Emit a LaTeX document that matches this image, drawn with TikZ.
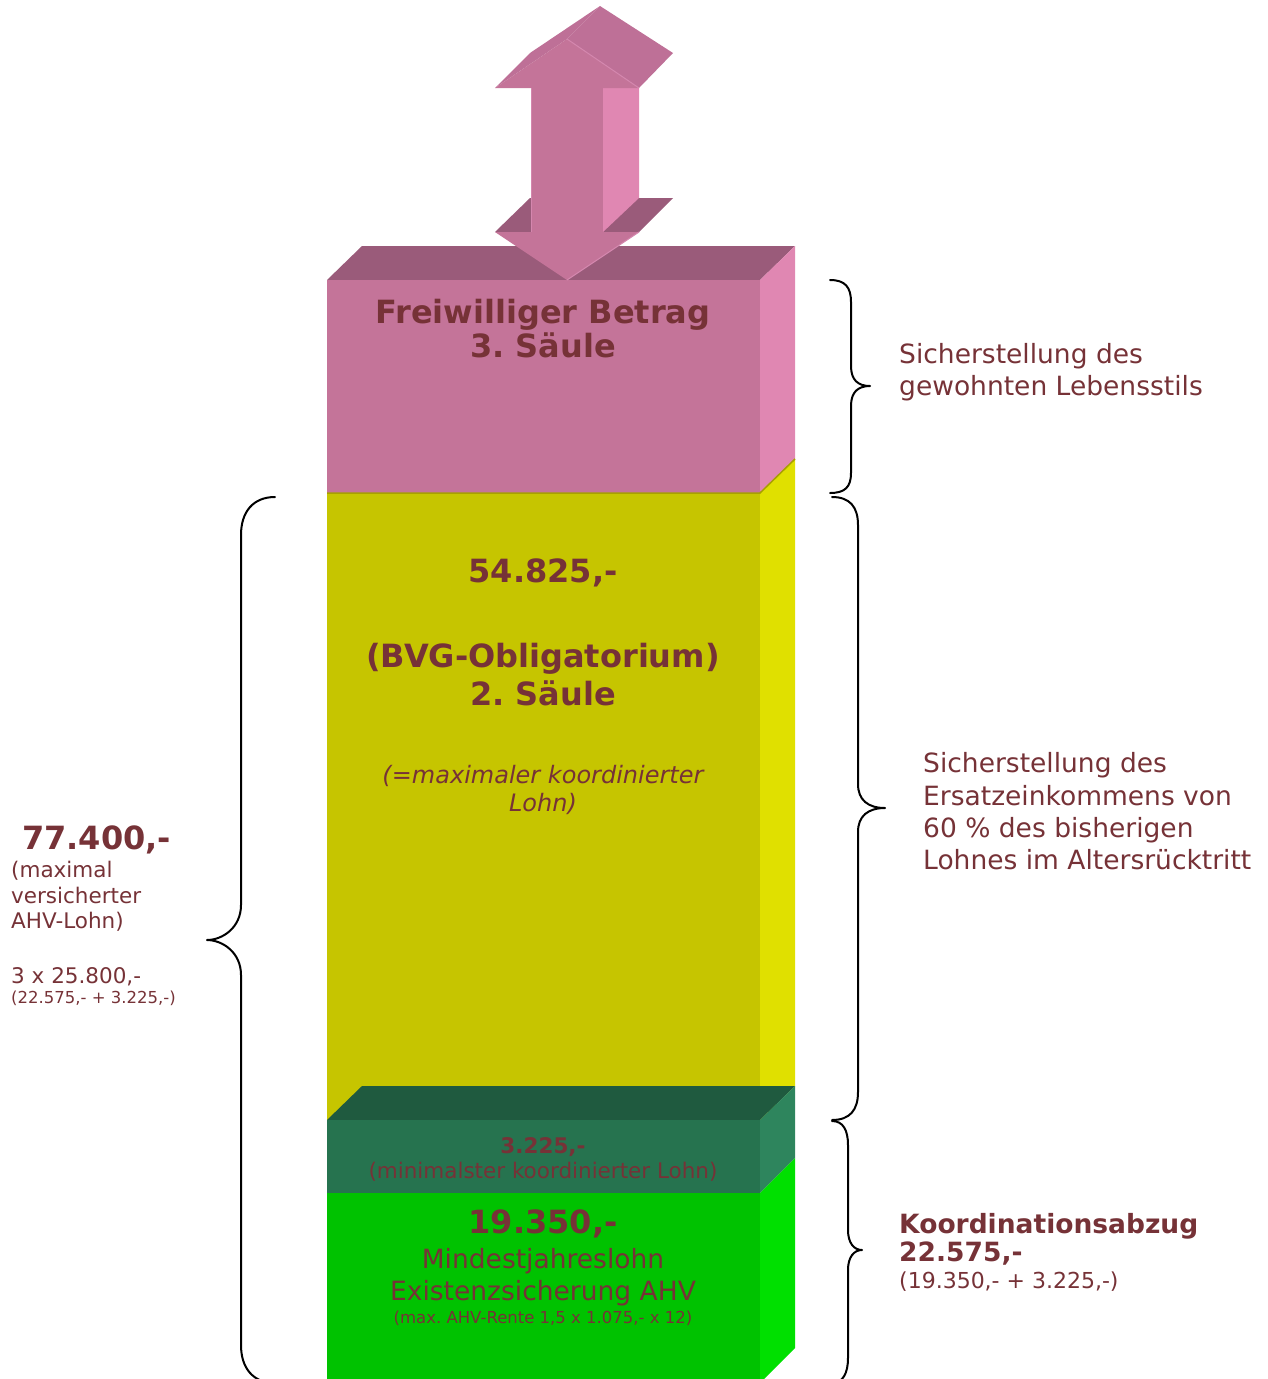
\documentclass[tikz,border=0pt]{standalone}
\usepackage{fontspec}
\setmainfont{DejaVu Sans}[ItalicFont={DejaVu Sans Oblique},BoldFont={DejaVu Sans Bold},BoldItalicFont={DejaVu Sans Bold Oblique}]
\definecolor{txt}{HTML}{763237}
\definecolor{pinkfront}{HTML}{C47499}
\definecolor{pinktop}{HTML}{9A5B7A}
\definecolor{pinkside}{HTML}{E087B2}
\definecolor{pinkslant}{HTML}{BE7097}
\definecolor{pinkridge}{HTML}{D487AE}
\definecolor{yelfront}{HTML}{C6C500}
\definecolor{yelside}{HTML}{E0E000}
\definecolor{yelline}{HTML}{A8A000}
\definecolor{dgtop}{HTML}{1F5A3F}
\definecolor{dgfront}{HTML}{26734F}
\definecolor{dgside}{HTML}{2E855D}
\definecolor{bgfront}{HTML}{00C200}
\definecolor{bgside}{HTML}{00E000}
\newcommand\fsz[1]{\fontsize{#1}{#1}\selectfont\frenchspacing}
\frenchspacing
\begin{document}
\begin{tikzpicture}[x=1pt,y=-1pt,
  lbl/.style={text=txt,inner sep=0pt,anchor=base},
  lblL/.style={text=txt,inner sep=0pt,anchor=base west},
  bigb/.style={font=\fsz{32}\bfseries},
  midr/.style={font=\fsz{26.5}},
  braceline/.style={draw=black,line width=2pt,line cap=round,line join=round}]
\useasboundingbox (0,0) rectangle (1268,1379);
\clip (0,0) rectangle (1268,1379);

% ---------- column ----------
% pink block
\fill[pinktop] (327,280) -- (362,246) -- (795,246) -- (760,280) -- cycle;
\fill[pinkside] (760,280) -- (795,246) -- (795,459) -- (760,493) -- cycle;
\fill[pinkfront] (327,280) rectangle (760,493);
% yellow block
\fill[yelfront] (327,493) rectangle (760,1120);
\fill[yelside] (760,493) -- (795,459) -- (795,1086) -- (760,1120) -- cycle;
\draw[yelline,line width=1.5pt] (327,493) -- (760,493) -- (795,459);
% dark green block
\fill[dgtop] (327,1120) -- (362,1086) -- (795,1086) -- (760,1120) -- cycle;
\fill[dgfront] (327,1120) rectangle (760,1193);
\fill[dgside] (760,1120) -- (795,1086) -- (795,1158) -- (760,1193) -- cycle;
% bright green block
\fill[bgfront] (327,1193) rectangle (760,1383);
\fill[bgside] (760,1193) -- (795,1158) -- (795,1348) -- (760,1383) -- cycle;

% ---------- double arrow ----------
\fill[pinktop] (495,232) -- (530,198) -- (673,198) -- (639,232) -- cycle;
\fill[pinkside] (603,88) -- (639,88) -- (639,198) -- (603,232) -- cycle;
\fill[pinkfront] (531,88) rectangle (603,232);
\fill[pinkfront] (495,232) -- (567,280) -- (639,232) -- cycle;
\fill[pinkslant] (495,88) -- (530,53) -- (600,6) -- (567,39) -- cycle;
\fill[pinkslant] (567,39) -- (600,6) -- (673,53) -- (639,88) -- cycle;
\fill[pinkfront] (495,88) -- (567,39) -- (639,88) -- cycle;
\draw[pinkridge,line width=1pt] (567,39) -- (639,88);
\draw[pinkridge,line width=1pt] (567,280) -- (639,232);
\draw[pinkridge,line width=1pt] (531,88) -- (531,232);

% ---------- texts in column ----------
\node[lbl,bigb] (freiw) at (543,323) {Freiwilliger Betrag};
\node[lbl,bigb] (saeule3) at (543,357) {3. Säule};
\node[lbl,bigb] (v54) at (543,582) {54.825,-};
\node[lbl,bigb] (bvg) at (543,667) {(BVG-Obligatorium)};
\node[lbl,bigb] (saeule2) at (543,705) {2. Säule};
\node[lbl,font=\fsz{24}\itshape] (maxk1) at (543,783) {(=maximaler koordinierter};
\node[lbl,font=\fsz{24}\itshape] (maxk2) at (543,811) {Lohn)};
\node[lbl,font=\fsz{21.5}\bfseries] (v3225) at (543,1153) {3.225,-};
\node[lbl,font=\fsz{21.5}] (mink) at (543,1178) {(minimalster koordinierter Lohn)};
\node[lbl,bigb] (v19350) at (543,1233) {19.350,-};
\node[lbl,midr] (mindest) at (543,1268) {Mindestjahreslohn};
\node[lbl,midr] (exist) at (543,1300) {Existenzsicherung AHV};
\node[lbl,font=\fsz{16.5}] (rente) at (543,1323) {(max. AHV-Rente 1,5 x 1.075,- x 12)};

% ---------- right texts ----------
\node[lblL,midr] (r1a) at (899,363) {Sicherstellung des};
\node[lblL,midr] (r1b) at (899,395) {gewohnten Lebensstils};
\node[lblL,midr] (r2a) at (923,772) {Sicherstellung des};
\node[lblL,midr] (r2b) at (923,805) {Ersatzeinkommens von};
\node[lblL,midr] (r2c) at (923,837) {60 \% des bisherigen};
\node[lblL,midr] (r2d) at (923,869) {Lohnes im Altersrücktritt};
\node[lblL,font=\fsz{26.5}\bfseries] (r3a) at (899,1233) {Koordinationsabzug};
\node[lblL,font=\fsz{26.5}\bfseries] (r3b) at (899,1261) {22.575,-};
\node[lblL,font=\fsz{22}] (r3c) at (899,1288) {(19.350,- + 3.225,-)};

% ---------- left texts ----------
\node[lblL,bigb] (l1) at (22,849) {77.400,-};
\node[lblL,font=\fsz{21.5}] (l2) at (11,877) {(maximal};
\node[lblL,font=\fsz{21.5}] (l3) at (11,903) {versicherter};
\node[lblL,font=\fsz{21.5}] (l4) at (11,928) {AHV-Lohn)};
\node[lblL,font=\fsz{21.5}] (l5) at (11,983) {3 x 25.800,-};
\node[lblL,font=\fsz{16.5}] (l6) at (11,1003) {(22.575,- + 3.225,-)};

% ---------- braces ----------
\coordinate (b1t) at (830,280); \coordinate (b1tip) at (870,386); \coordinate (b1b) at (830,493);
\draw[braceline] (b1t) .. controls (845,280) and (851,287) .. (851,302) -- (851,366)
  .. controls (851,380) and (858,386) .. (b1tip)
  .. controls (858,386) and (851,392) .. (851,406) -- (851,473)
  .. controls (851,487) and (845,493) .. (b1b);
\coordinate (b2t) at (832,497); \coordinate (b2tip) at (885,808); \coordinate (b2b) at (832,1120);
\draw[braceline] (b2t) .. controls (850,497) and (858,507) .. (858,525) -- (858,784)
  .. controls (858,800) and (868,808) .. (b2tip)
  .. controls (868,808) and (858,816) .. (858,832) -- (858,1092)
  .. controls (858,1110) and (850,1120) .. (b2b);
\coordinate (b3t) at (832,1121); \coordinate (b3tip) at (862,1250); \coordinate (b3b) at (832,1383);
\draw[braceline] (b3t) .. controls (843,1121) and (848,1130) .. (848,1145) -- (848,1230)
  .. controls (848,1243) and (854,1250) .. (b3tip)
  .. controls (854,1250) and (848,1257) .. (848,1270) -- (848,1358)
  .. controls (848,1373) and (843,1383) .. (b3b);
\coordinate (lbt) at (275,497); \coordinate (lbtip) at (207,940); \coordinate (lbb) at (275,1383);
\draw[braceline] (lbt) .. controls (253,497) and (241,512) .. (241,535) -- (241,905)
  .. controls (241,928) and (222,940) .. (lbtip)
  .. controls (222,940) and (241,952) .. (241,975) -- (241,1345)
  .. controls (241,1368) and (253,1383) .. (lbb);
\end{tikzpicture}
\end{document}
